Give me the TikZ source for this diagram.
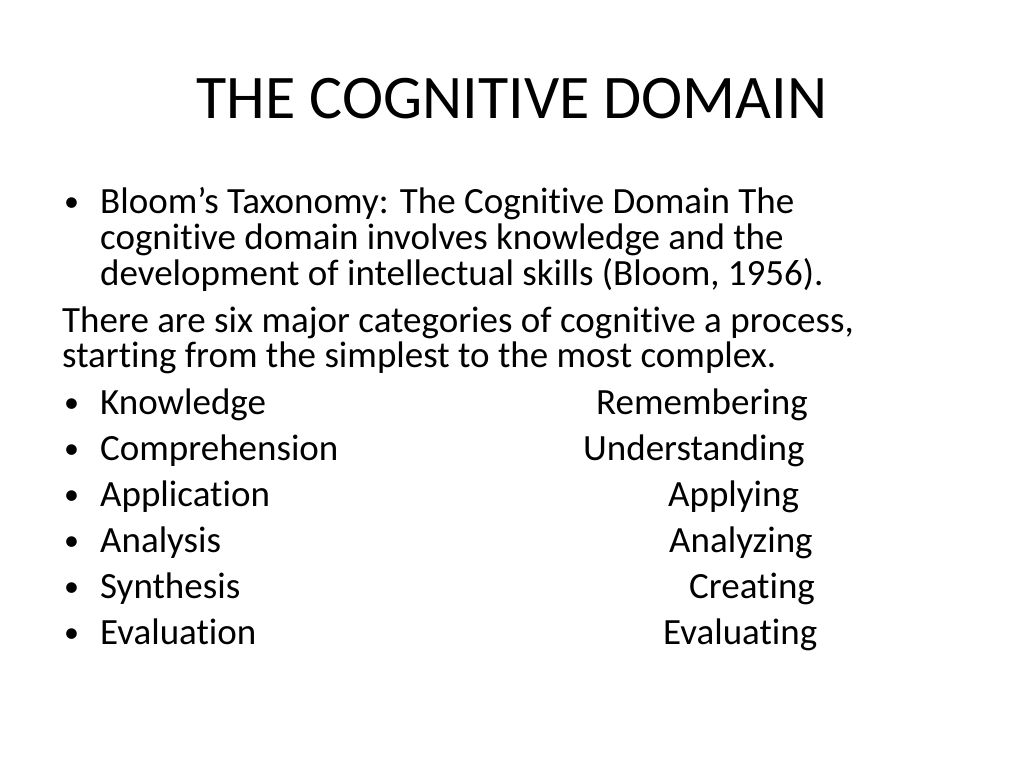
\documentclass[tikz,border=0pt]{standalone}
\usepackage{fontspec}
\setmainfont[Ligatures=NoCommon]{Carlito}
\begin{document}
\begin{tikzpicture}[x=1pt,y=-1pt,
  body/.style={anchor=base west,inner sep=0pt,font=\fontsize{37}{44}\selectfont},
  bul/.style={anchor=base west,inner sep=0pt,font=\fontsize{30}{36}\selectfont},
  title/.style={anchor=base,inner sep=0pt,font=\fontsize{62}{72}\selectfont}]
\useasboundingbox[fill=white] (0,0) rectangle (1024,768);
\node[title] (t) at (512,118) {THE COGNITIVE DOMAIN};
\node[bul] (b0) at (64,211) {•};
\node[body] (l1) at (100,213) {Bloom’s Taxonomy: The Cognitive Domain The};
\node[body] (l2) at (100,249) {cognitive domain involves knowledge and the};
\node[body] (l3) at (100,285) {development of intellectual skills (Bloom, 1956).};
\node[body] (l4) at (62,332) {There are six major categories of cognitive a process,};
\node[body] (l5) at (62,367) {starting from the simplest to the most complex.};
\foreach \n/\y/\a/\b/\bx in {1/414/Knowledge/Remembering/596, 2/460/Comprehension/Understanding/583, 3/506/Application/Applying/668, 4/552/Analysis/Analyzing/669, 5/598/Synthesis/Creating/689, 6/644/Evaluation/Evaluating/663}{
  \node[bul] (bb\n) at (64,\y-2) {•};
  \node[body] (a\n) at (100,\y) {\a};
  \node[body] (r\n) at (\bx,\y) {\b};
}
\end{tikzpicture}
\end{document}
